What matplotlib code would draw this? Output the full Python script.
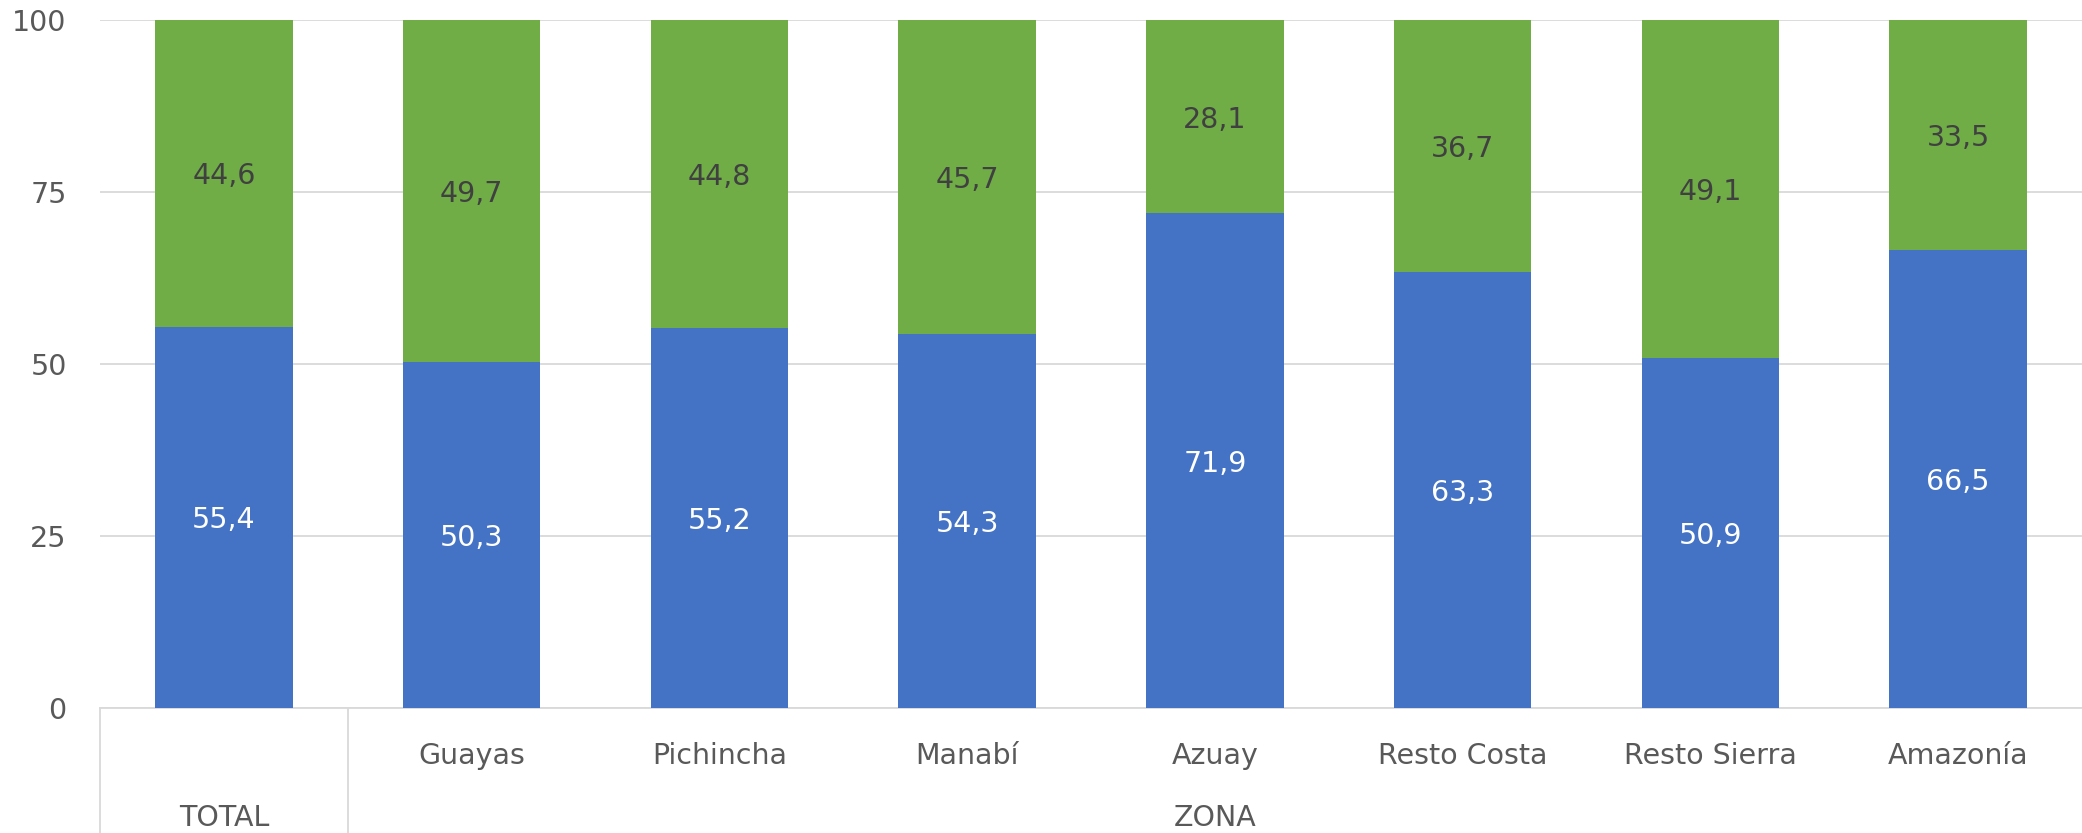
import matplotlib
matplotlib.use("Agg")
import matplotlib.pyplot as plt
import numpy as np

categories = ["", "Guayas", "Pichincha", "Manabí", "Azuay", "Resto Costa", "Resto Sierra", "Amazonía"]
groups = ["TOTAL", "ZONA"]
group_spans = [(0, 0), (1, 7)]
serie_azul = [55.4, 50.3, 55.2, 54.3, 71.9, 63.3, 50.9, 66.5]
serie_verde = [44.6, 49.7, 44.8, 45.7, 28.1, 36.7, 49.1, 33.5]
yticks = [0, 25, 50, 75, 100]

plt.rcParams['font.family'] = ['DejaVu Sans']

fig = plt.figure(figsize=(20.82, 8.33), dpi=100)
ax = fig.add_axes([100/2082, 1 - 708/833, 1 - 100/2082, (708 - 20)/833])

x = np.arange(len(categories))
w = 0.556
blue = "#4472C4"
green = "#70AD47"
ax.bar(x, serie_azul, w, color=blue, zorder=3)
ax.bar(x, serie_verde, w, bottom=serie_azul, color=green, zorder=3)

fs = 20.5
for xi, a, g in zip(x, serie_azul, serie_verde):
    ax.text(xi, a / 2, f"{a:.1f}".replace(".", ","), ha="center", va="center_baseline",
            color="white", fontsize=fs, zorder=4)
    ax.text(xi, a + g / 2, f"{g:.1f}".replace(".", ","), ha="center", va="center_baseline",
            color="#404040", fontsize=fs, zorder=4)

ax.set_xlim(-0.5, len(categories) - 0.5)
ax.set_ylim(0, 100)
ax.set_yticks(yticks)
ax.set_yticklabels([str(t) for t in yticks], fontsize=fs, color="#595959")
ax.tick_params(axis="y", length=0, pad=24)
ax.set_xticks([])
ax.grid(axis="y", color="#D9D9D9", linewidth=1.3, zorder=0)
for s in ["top", "right", "left"]:
    ax.spines[s].set_visible(False)
ax.spines["bottom"].set_color("#D9D9D9")
ax.spines["bottom"].set_linewidth(1.3)

trans = ax.get_xaxis_transform()
y_cat = -(753 - 708) / 688
y_grp = -(815 - 708) / 688
for xi, c in zip(x, categories):
    ax.text(xi, y_cat, c, ha="center", va="center_baseline", fontsize=fs, color="#595959",
            transform=trans, clip_on=False)
for (s, e), gname in zip(group_spans, groups):
    ax.text((s + e) / 2, y_grp, gname, ha="center", va="center_baseline", fontsize=fs,
            color="#595959", transform=trans, clip_on=False)

# separator lines for multi-level category axis
for sep in [-0.5, 0.5]:
    ax.plot([sep, sep], [0, -0.2], color="#D9D9D9", linewidth=1.3,
            transform=trans, clip_on=False)

fig.savefig("out.png", dpi=100, facecolor="white")
